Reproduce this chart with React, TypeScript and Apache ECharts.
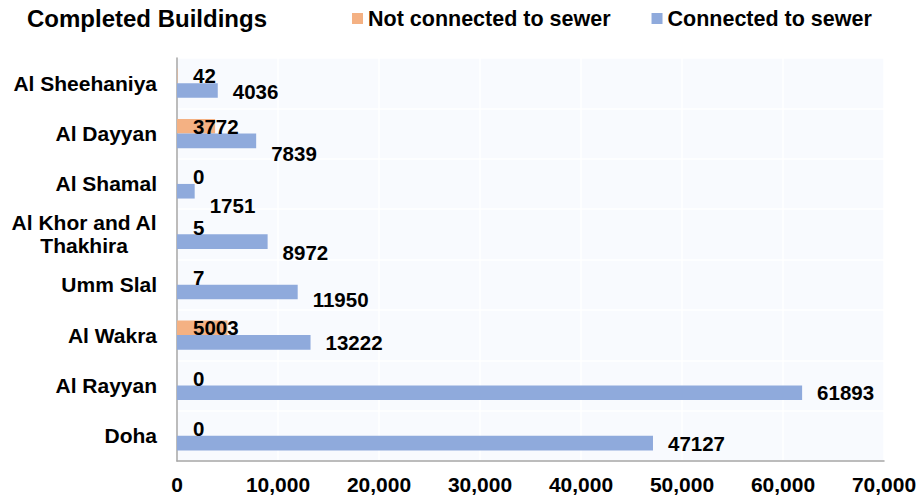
import React, { useEffect, useRef } from "react";
import * as echarts from "echarts";

// Municipalities, listed from the bottom of the axis to the top
const categories = [
  "Doha",
  "Al Rayyan",
  "Al Wakra",
  "Umm Slal",
  "Al Khor and Al Thakhira",
  "Al Shamal",
  "Al Dayyan",
  "Al Sheehaniya",
];

// Completed buildings per municipality
const notConnected = [0, 0, 5003, 7, 5, 0, 3772, 42];
const connected = [47127, 61893, 13222, 11950, 8972, 1751, 7839, 4036];

// Value axis range and step
const xMin = 0;
const xMax = 70000;
const xStep = 10000;

const seriesNames = ["Not connected to sewer", "Connected to sewer"];

// Vertical nudge (px) of the "connected" value labels, bottom to top
const connectedLabelShift = [0, 0, 0, 7.5, 11, 14, 13, 1];

const FONT = '"Liberation Sans", Arial, Helvetica, sans-serif';

function wrapWords(text: string, maxChars: number): string[] {
  const words = text.split(" ");
  const lines: string[] = [];
  let cur = "";
  for (const w of words) {
    const next = cur ? cur + " " + w : w;
    if (next.length > maxChars && cur) {
      lines.push(cur);
      cur = w;
    } else {
      cur = next;
    }
  }
  if (cur) lines.push(cur);
  return lines;
}

export default function App() {
  const ref = useRef<HTMLDivElement>(null);

  useEffect(() => {
    if (!ref.current) return;
    const chart = echarts.init(ref.current, undefined, { renderer: "svg" });

    const labelText = {
      fontFamily: FONT,
      fontWeight: "bold" as const,
      color: "#000000",
    };

    chart.setOption({
      animation: false,
      backgroundColor: "#ffffff",
      title: {
        text: "Completed Buildings",
        left: 27,
        top: 6,
        padding: 0,
        textStyle: { ...labelText, fontSize: 24 },
      },
      legend: {
        data: seriesNames,
        left: 352,
        top: 7.5,
        padding: 0,
        icon: "rect",
        itemWidth: 11,
        itemHeight: 11,
        itemGap: 41,
        textStyle: { ...labelText, fontSize: 21.5 },
      },
      grid: {
        left: 177,
        right: 37,
        top: 58,
        bottom: 37,
        show: true,
        backgroundColor: "#F8FAFE",
        borderWidth: 0,
      },
      xAxis: {
        type: "value",
        min: xMin,
        max: xMax,
        interval: xStep,
        axisLine: { show: true, lineStyle: { color: "#A6A6A6", width: 1.5 } },
        axisTick: { show: false },
        splitLine: { show: true, lineStyle: { color: "#FFFFFF", width: 1.5 } },
        axisLabel: {
          ...labelText,
          fontSize: 21,
          margin: 13,
          formatter: (v: number) => v.toLocaleString("en-US"),
        },
      },
      yAxis: {
        type: "category",
        data: categories,
        axisLine: { show: true, lineStyle: { color: "#A6A6A6", width: 1.5 } },
        axisTick: { show: false },
        splitLine: { show: true, lineStyle: { color: "#FFFFFF", width: 1.5 } },
        axisLabel: {
          margin: 20,
          formatter: (v: string) =>
            wrapWords(v, 14)
              .map((l) => `{c|${l}}`)
              .join("\n"),
          rich: {
            c: { ...labelText, fontSize: 21, lineHeight: 23, align: "center" },
          },
        },
      },
      series: [
        {
          name: seriesNames[0],
          type: "bar",
          data: notConnected,
          barGap: "0%",
          barCategoryGap: "42%",
          itemStyle: { color: "#F4B183" },
          label: {
            show: true,
            position: [16, "50%"],
            align: "left",
            verticalAlign: "middle",
            ...labelText,
            fontSize: 20.5,
          },
        },
        {
          name: seriesNames[1],
          type: "bar",
          data: connected.map((v, i) => ({
            value: v,
            label: { offset: [0, connectedLabelShift[i]] },
          })),
          barGap: "0%",
          barCategoryGap: "42%",
          itemStyle: { color: "#8FAADC" },
          label: {
            show: true,
            position: "right",
            distance: 15,
            ...labelText,
            fontSize: 20.5,
          },
        },
      ],
    });

    return () => chart.dispose();
  }, []);

  return (
    <div
      ref={ref}
      style={{ position: "fixed", left: 0, top: 0, width: 921, height: 498 }}
    />
  );
}
